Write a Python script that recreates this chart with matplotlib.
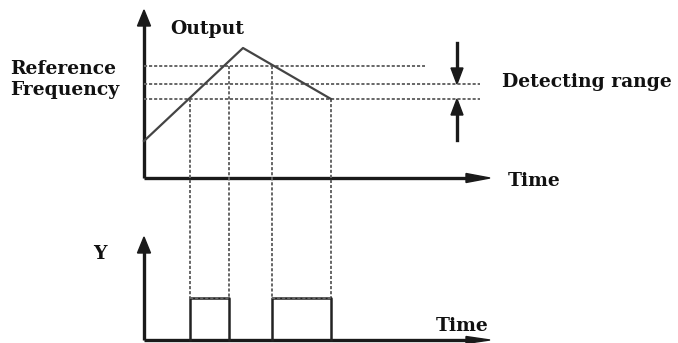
import matplotlib
matplotlib.use("Agg")
import matplotlib.pyplot as plt
from matplotlib.patches import FancyArrow

# ---- data (diagram units: x = time position, y = level, drawn top-down) ----
wave_t = [144, 243, 331]          # output waveform time points
wave_v = [141, 48, 99]            # output waveform levels
ref_levels = [66, 84, 99]         # upper, reference, lower levels
ref_ends = [425, 480, 480]        # extent of each dashed level line
cross_t = [190, 229, 272, 331]    # crossing instants
cross_top = [99, 66, 66, 99]      # level at which each crossing occurs
pulse_starts = [190, 272]
pulse_ends = [229, 331]
pulse_high = 298
pulse_low = 340

FONT = dict(family="DejaVu Serif", fontweight="bold", color="#111111")
FS = 13.5

fig = plt.figure(figsize=(6.78, 3.43), dpi=100)
ax = fig.add_axes([0, 0, 1, 1])
ax.set_xlim(0, 678)
ax.set_ylim(343, 0)
ax.axis("off")

axc = "#1a1a1a"
dash_c = "#666666"
dash_ls = (0, (1.6, 1.0))
# top axes
ax.plot([144, 144], [178, 22], color=axc, lw=2.4, solid_capstyle="butt")
ax.add_patch(FancyArrow(144, 24, 0, -14, width=0, head_width=13, head_length=16,
                        length_includes_head=True, color=axc))
ax.plot([144, 475], [178, 178], color=axc, lw=2.4, solid_capstyle="butt")
ax.add_patch(FancyArrow(470, 178, 20, 0, width=0, head_width=9, head_length=24,
                        length_includes_head=True, color=axc))

# bottom axes
ax.plot([144, 144], [340, 250], color=axc, lw=2.4, solid_capstyle="butt")
ax.add_patch(FancyArrow(144, 252, 0, -15, width=0, head_width=13, head_length=16,
                        length_includes_head=True, color=axc))
ax.plot([144, 475], [340, 340], color=axc, lw=2.4, solid_capstyle="butt")
ax.add_patch(FancyArrow(470, 340, 20, 0, width=0, head_width=7, head_length=24,
                        length_includes_head=True, color=axc))

# dashed level lines
for lv, end in zip(ref_levels, ref_ends):
    ax.plot([144, end], [lv, lv], color=dash_c, lw=1.4, ls=dash_ls)

# vertical dashed lines
for t, top in zip(cross_t, cross_top):
    ax.plot([t, t], [top, pulse_high], color=dash_c, lw=1.4, ls=dash_ls)

# waveform
ax.plot(wave_t, wave_v, color="#444444", lw=1.6)

# pulses
for s, e in zip(pulse_starts, pulse_ends):
    ax.plot([s, s, e, e], [pulse_low, pulse_high, pulse_high, pulse_low],
            color="#222222", lw=1.8)
    ax.plot([s, e], [pulse_high, pulse_high], color=dash_c, lw=1.4, ls=dash_ls)

# detecting range arrows
ax.plot([457, 457], [43, 70], color=axc, lw=2.4)
ax.add_patch(FancyArrow(457, 66, 0, 18, width=0, head_width=12, head_length=16,
                        length_includes_head=True, color=axc))
ax.plot([457, 457], [140, 113], color=axc, lw=2.4)
ax.add_patch(FancyArrow(457, 117, 0, -18, width=0, head_width=12, head_length=16,
                        length_includes_head=True, color=axc))

# texts
ax.text(170, 29, "Output", fontsize=FS, va="center", ha="left", **FONT)
ax.text(10, 69, "Reference", fontsize=FS, va="center", ha="left", **FONT)
ax.text(10, 90, "Frequency", fontsize=FS, va="center", ha="left", **FONT)
ax.text(502, 82, "Detecting range", fontsize=FS, va="center", ha="left", **FONT)
ax.text(508, 181, "Time", fontsize=FS, va="center", ha="left", **FONT)
ax.text(93, 254, "Y", fontsize=FS, va="center", ha="left", **FONT)
ax.text(436, 326, "Time", fontsize=FS, va="center", ha="left", **FONT)

fig.savefig("out.png", dpi=100, facecolor="white")
